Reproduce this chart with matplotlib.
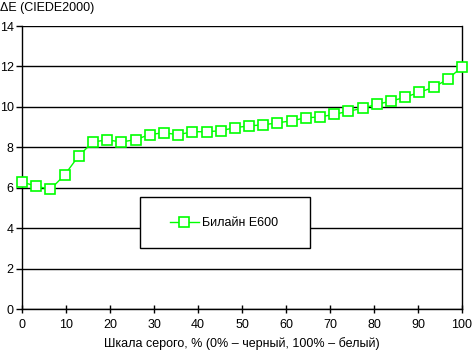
import numpy as np
import matplotlib
matplotlib.use("Agg")
from matplotlib import pyplot as plt
from matplotlib.patches import Rectangle

plt.rcParams['font.family'] = ['Liberation Sans', 'DejaVu Sans']

# grey scale steps, %
gray_pct = np.linspace(0, 100, 32)
delta_e = [6.28, 6.08, 5.92, 6.63, 7.58, 8.26, 8.37, 8.26, 8.38, 8.63, 8.72,
           8.62, 8.77, 8.77, 8.82, 8.97, 9.06, 9.11, 9.21, 9.31, 9.46,
           9.50, 9.63, 9.78, 9.93, 10.13, 10.28, 10.48, 10.72, 10.97, 11.37, 11.98]
series_name = "Билайн E600"
x_ticks = list(range(0, 101, 10))
y_ticks = list(range(0, 15, 2))

W, H = 472, 352
L, R, T, B = 22, 462, 26, 309
fig = plt.figure(figsize=(W / 100, H / 100), dpi=100)
ax = fig.add_axes([L / W, 1 - B / H, (R - L) / W, (B - T) / H])

ax.plot(gray_pct, delta_e, color="#00ff00", lw=1, marker="s", ms=7,
        mfc="white", mec="#00ff00", mew=1.2, label=series_name, zorder=3,
        clip_on=False)

ax.set_xlim(0, 100)
ax.set_ylim(0, 14)
ax.set_xticks(x_ticks)
ax.set_yticks(y_ticks)
ax.grid(axis="y", color="black", lw=1)
ax.set_axisbelow(True)
for s in ax.spines.values():
    s.set_color("black")
    s.set_linewidth(1)
ax.spines["top"].set_visible(False)
ax.tick_params(axis="x", direction="inout", length=6, width=1, labelsize=9, pad=4)
ax.tick_params(axis="y", direction="out", length=4, width=1, labelsize=9, pad=2)

fig.text(0, 1 - 8 / H, "ΔE (CIEDE2000)", fontsize=9, va="center", ha="left")
fig.text((L + R) / 2 / W, 1 - 344 / H, "Шкала серого, % (0% – черный, 100% – белый)",
         fontsize=9, ha="center", va="center")

# legend box (pixel coords of the reference)
bx0, bx1, by0, by1 = 140, 310, 197, 248


def to_ax(px, py):
    return (px - L) / (R - L), (B - py) / (B - T)


x0, y1 = to_ax(bx0, by0)
x1, y0 = to_ax(bx1, by1)
ax.add_patch(Rectangle((x0, y0), x1 - x0, y1 - y0, transform=ax.transAxes,
                       facecolor="white", edgecolor="black", lw=1, zorder=4,
                       clip_on=False))
lx, ly = to_ax(170, 223)
leg = ax.legend(loc="center left", bbox_to_anchor=(lx, ly), frameon=False,
                fontsize=9, borderpad=0, handlelength=2.3, handletextpad=0.3,
                borderaxespad=0)
leg.set_zorder(5)

fig.savefig("out.png", dpi=100)
